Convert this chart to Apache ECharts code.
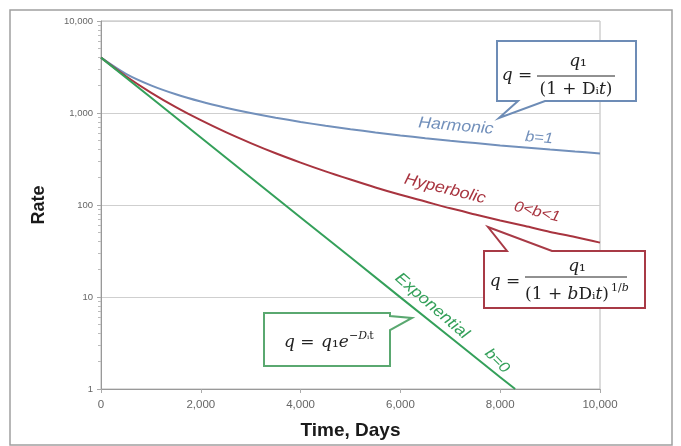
<!DOCTYPE html>
<html>
<head>
<meta charset="utf-8">
<script src="https://cdn.jsdelivr.net/npm/echarts@6/dist/echarts.min.js"></script>
<style>html,body{margin:0;padding:0;background:#fff;}#c{width:681px;height:446px;}</style>
</head>
<body>
<div id="c"></div>
<script>
// ---- data ----
const timeDays = [0,500,1000,1500,2000,2500,3000,3500,4000,4500,5000,5500,6000,6500,7000,7500,8000,8500,9000,9500,10000];
const harmonicRate = [4000,2667,2000,1600,1333,1143,1000,889,800,727,667,615,571,533,500,471,444,421,400,381,364];
const hyperbolicRate = [4000,2510,1668,1159,835,619,471,365,289,232,189,155,129,109,92,79,68,59,51,45,39];
const expTime = [0,1000,2000,3000,4000,5000,6000,7000,8000,8300];
const exponentialRate = [4000,1472,541,199,73.3,27.0,9.9,3.65,1.34,1.0];
const xTicks = [0,2000,4000,6000,8000,10000];
const yTicks = [1,10,100,1000,10000];

const pairs = (xs, ys) => xs.map((x, i) => [x, ys[i]]);
const fmt = v => Number(v).toLocaleString('en-US');

const C_H = '#7290bb', C_P = '#a8343f', C_E = '#34a05a';
const SERIF = 'DejaVu Serif';
const FS = 17;
const richBig = { i: { fontStyle: 'italic', fontFamily: SERIF, fontSize: FS, fill: '#222' } };
const richSmall = { i: { fontStyle: 'italic', fontFamily: SERIF, fontSize: 11, fill: '#222' } };

function ftxt(x, y, text, opts) {
  return {
    type: 'text', x: x, y: y, z: 20,
    style: Object.assign({ text: text, fill: '#222', fontFamily: SERIF, fontSize: FS, align: 'center', verticalAlign: 'middle', rich: richBig }, opts || {})
  };
}
function lbl(x, y, text, color, rotDeg, size) {
  return { type: 'text', x: x, y: y, rotation: -rotDeg * Math.PI / 180, scaleX: 1.1, z: 20,
    style: { text: text, fill: color, fontFamily: 'Liberation Sans', fontStyle: 'italic', fontSize: size || 16, align: 'center', verticalAlign: 'middle' } };
}
function poly(points, color) {
  return { type: 'polygon', z: 10, shape: { points: points }, style: { fill: '#fff', stroke: color, lineWidth: 2 } };
}

const chart = echarts.init(document.getElementById('c'));
chart.setOption({
  animation: false,
  backgroundColor: '#fff',
  grid: { left: 101, right: 81, top: 21, bottom: 57, show: true, borderColor: '#b8b8b8', borderWidth: 1, containLabel: false, outerBoundsMode: 'none' },
  xAxis: {
    type: 'value', min: xTicks[0], max: xTicks[xTicks.length - 1], interval: 2000,
    name: 'Time, Days', nameLocation: 'middle', nameGap: 32,
    nameTextStyle: { fontFamily: 'Liberation Sans', fontWeight: 'bold', fontSize: 19, color: '#1a1a1a' },
    axisLine: { lineStyle: { color: '#999' } },
    axisTick: { show: true, length: 4, lineStyle: { color: '#aaa' } },
    axisLabel: { margin: 10, color: '#666', fontSize: 11.5, fontFamily: 'Liberation Sans', formatter: fmt },
    splitLine: { show: false }
  },
  yAxis: {
    type: 'log', logBase: 10, min: yTicks[0], max: yTicks[yTicks.length - 1],
    name: 'Rate', nameLocation: 'middle', nameGap: 53,
    nameTextStyle: { fontFamily: 'Liberation Sans', fontWeight: 'bold', fontSize: 18, color: '#1a1a1a' },
    axisLine: { show: true, lineStyle: { color: '#999' } },
    axisTick: { show: true, length: 4, lineStyle: { color: '#aaa' } },
    minorTick: { show: true, splitNumber: 9, length: 3, lineStyle: { color: '#bbb' } },
    axisLabel: { margin: 8, color: '#666', fontSize: 9.5, fontFamily: 'Liberation Sans', formatter: fmt },
    splitLine: { show: true, lineStyle: { color: '#cfcfcf' } }
  },
  series: [
    { name: 'Harmonic', type: 'line', data: pairs(timeDays, harmonicRate), smooth: 0.3, showSymbol: false, lineStyle: { color: C_H, width: 2 }, z: 3 },
    { name: 'Hyperbolic', type: 'line', data: pairs(timeDays, hyperbolicRate), smooth: 0.3, showSymbol: false, lineStyle: { color: C_P, width: 2 }, z: 3 },
    { name: 'Exponential', type: 'line', data: pairs(expTime, exponentialRate), showSymbol: false, lineStyle: { color: C_E, width: 2 }, z: 3 }
  ],
  graphic: [
    { type: 'rect', z: 0, silent: true, shape: { x: 10, y: 10, width: 662, height: 435 }, style: { fill: 'none', stroke: '#a0a0a0', lineWidth: 1.5 } },
    // curve labels
    lbl(456, 126, 'Harmonic', C_H, 5),
    lbl(539, 138, 'b=1', C_H, 5, 15),
    lbl(445, 189, 'Hyperbolic', C_P, 14),
    lbl(537, 212, '0<b<1', C_P, 14, 15),
    lbl(432, 306, 'Exponential', C_E, 41),
    lbl(497, 361, 'b=0', C_E, 45, 15),
    // harmonic callout
    poly([[497,41],[636,41],[636,101],[545,101],[499,118],[518,101],[497,101]], '#6d8cb6'),
    ftxt(517, 76, '{i|q} ='),
    ftxt(578, 62, '{i|q}₁'),
    { type: 'line', z: 20, shape: { x1: 537, y1: 76, x2: 615, y2: 76 }, style: { stroke: '#222', lineWidth: 1 } },
    ftxt(576, 90, '(1 + Dᵢ{i|t})'),
    // hyperbolic callout
    poly([[484,251],[507,251],[488,227],[552,251],[645,251],[645,308],[484,308]], '#a83a46'),
    ftxt(505, 282, '{i|q} ='),
    ftxt(577, 267, '{i|q}₁'),
    { type: 'line', z: 20, shape: { x1: 525, y1: 277, x2: 627, y2: 277 }, style: { stroke: '#222', lineWidth: 1 } },
    ftxt(567, 295, '(1 + {i|b}Dᵢ{i|t})'),
    ftxt(611, 288, '1/{i|b}', { align: 'left', fontSize: 11, rich: richSmall }),
    // exponential callout
    poly([[264,313],[390,313],[390,316],[412,318],[390,330],[390,366],[264,366]], '#5aa870'),
    ftxt(284, 343, '{i|q} =', { align: 'left' }),
    ftxt(321, 343, '{i|q}₁{i|e}', { align: 'left' }),
    ftxt(349, 336, '−{i|D}ᵢt', { align: 'left', fontSize: 11, rich: richSmall })
  ]
});
</script>
</body>
</html>
